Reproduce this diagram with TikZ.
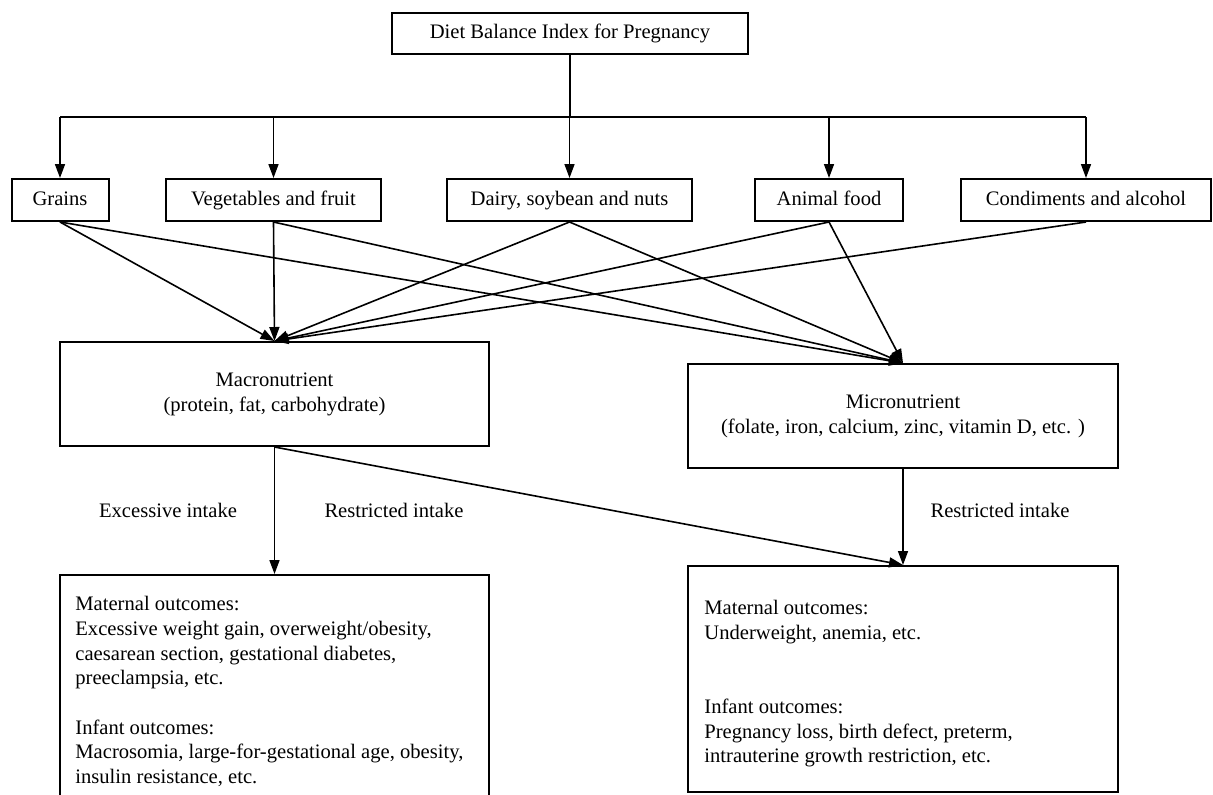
\documentclass[tikz,border=0pt]{standalone}
\usepackage{fontspec}
\setmainfont{Liberation Serif}
\usetikzlibrary{arrows.meta,calc}
\begin{document}
\begin{tikzpicture}[x=0.5pt,y=-0.5pt,
  box/.style={draw,line width=1pt,inner sep=0pt,align=center,
    font=\fontsize{10.3pt}{12.5pt}\selectfont},
  food/.style={box,minimum height=21pt,text height=7pt,text depth=2pt},
  txt/.style={inner sep=0pt,align=left,font=\fontsize{10.3pt}{12.35pt}\selectfont},
  lbl/.style={inner sep=0pt,font=\fontsize{10.3pt}{12.35pt}\selectfont},
  arr/.style={line width=0.8pt,-{Triangle[length=7pt,width=5pt]}},
  ln/.style={line width=0.8pt}]
\useasboundingbox (0,0) rectangle (1213,794);
\clip (0,0) rectangle (1213,794);
% top
\node[box,minimum width=178pt,minimum height=20.5pt,text height=7pt,text depth=2pt] (top) at (570,33.5) {Diet Balance Index for Pregnancy};
% food groups
\node[food,minimum width=48.5pt] (grains) at (60,200) {Grains};
\node[food,minimum width=107.5pt] (veg) at (273.5,200) {Vegetables and fruit};
\node[food,minimum width=122.5pt] (dairy) at (569.5,200) {Dairy, soybean and nuts};
\node[food,minimum width=74pt] (animal) at (829,200) {Animal food};
\node[food,minimum width=125pt] (cond) at (1086,200) {Condiments and alcohol};
% nutrients
\node[box,minimum width=214.5pt,minimum height=52pt] (macro) at (274.5,394) {Macronutrient\\(protein, fat, carbohydrate)};
\node[box,minimum width=215pt,minimum height=52pt] (micro) at (903,416) {Micronutrient\\(folate, iron, calcium, zinc, vitamin D, etc. )};
% outcomes
\node[box,minimum width=214.5pt,minimum height=117.5pt] (lo) at (274.5,692.5) {};
\node[box,minimum width=215pt,minimum height=113pt] (ro) at (903,679) {};
\node[txt,anchor=north west] (lotxt) at (75,596) {Maternal outcomes:\\Excessive weight gain, overweight/obesity,\\caesarean section, gestational diabetes,\\preeclampsia, etc.\\[12.35pt]Infant outcomes:\\Macrosomia, large-for-gestational age, obesity,\\insulin resistance, etc.};
\node[txt,anchor=north west] (rotxt) at (704,600) {Maternal outcomes:\\Underweight, anemia, etc.\\[24.7pt]Infant outcomes:\\Pregnancy loss, birth defect, preterm,\\intrauterine growth restriction, etc.};
% labels
\node[lbl] (exc) at (168,510) {Excessive intake};
\node[lbl] (res1) at (394,510) {Restricted intake};
\node[lbl] (res2) at (1000,510) {Restricted intake};
% tree from top
\coordinate (bus) at (570,117);
\draw[ln] (top.south) -- (bus);
\draw[ln] (grains.north|-bus) -- (cond.north|-bus);
\foreach \n in {grains,veg,dairy,animal,cond}
  \draw[arr] (\n.north|-bus) -- (\n.north);
% food -> macro
\foreach \n in {grains,veg,dairy,animal,cond}
  \draw[arr] (\n.south) -- (macro.north);
% food -> micro
\foreach \n in {grains,veg,dairy,animal}
  \draw[arr] (\n.south) -- (micro.north);
% nutrients -> outcomes
\draw[arr] (macro.south) -- (lo.north);
\draw[arr] (macro.south) -- (ro.north);
\draw[arr] (micro.south) -- (ro.north);
\end{tikzpicture}
\end{document}
